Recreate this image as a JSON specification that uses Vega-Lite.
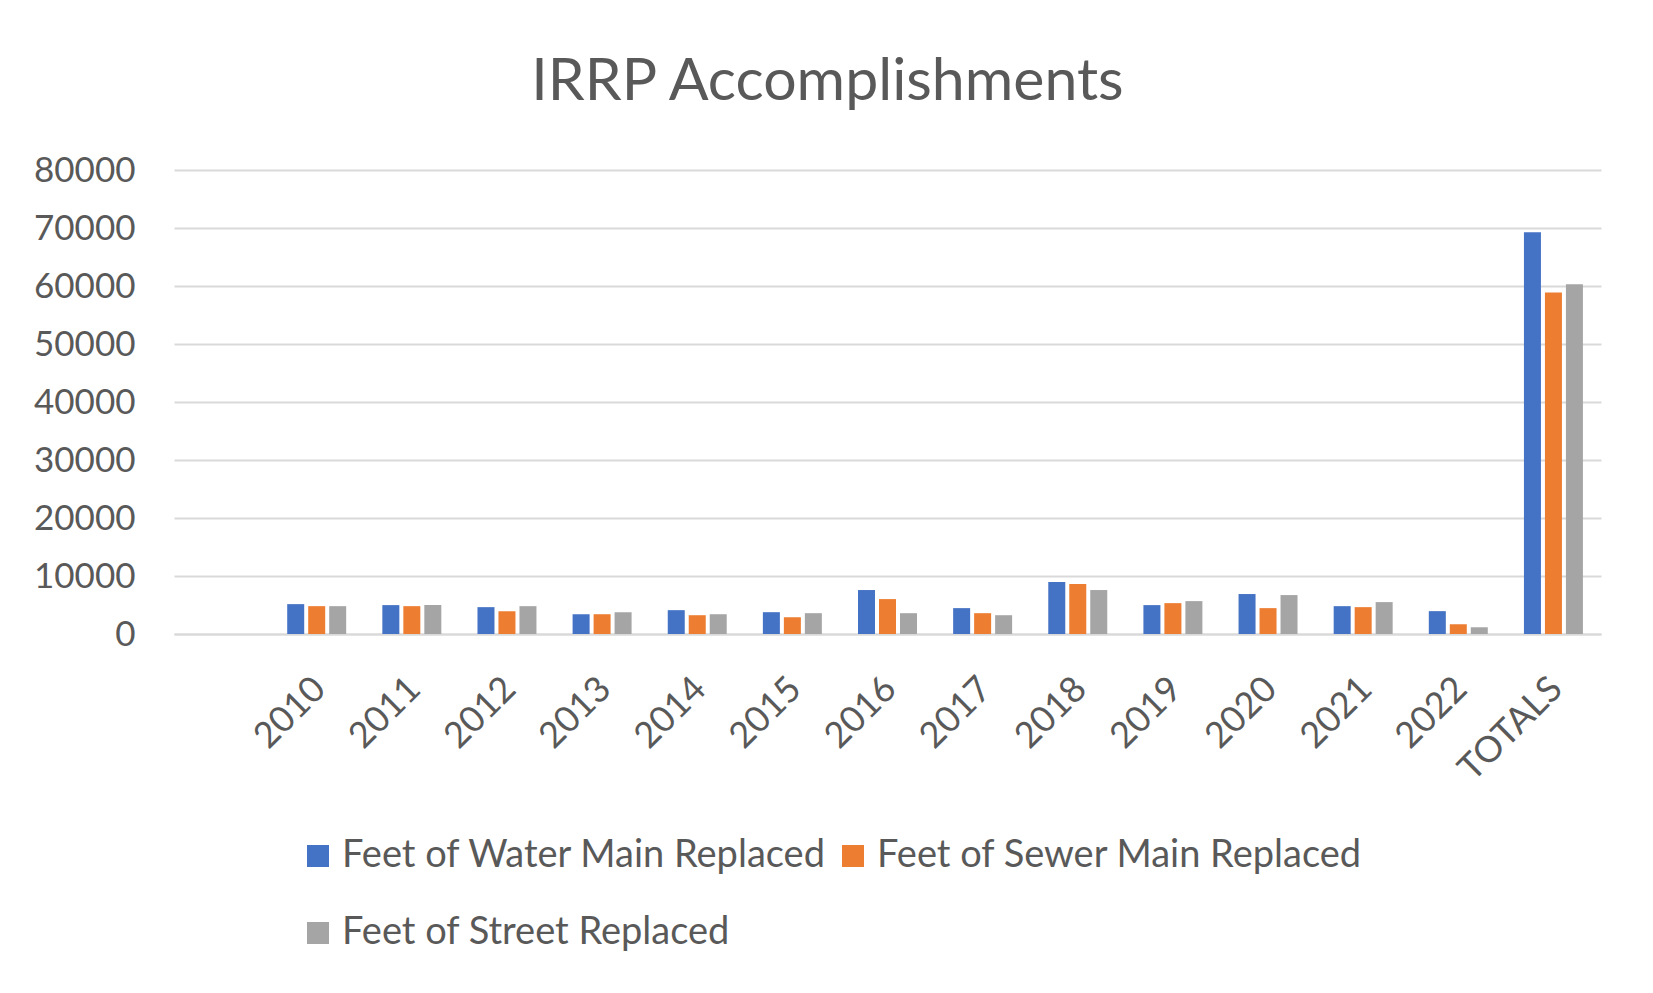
{
  "$schema": "https://vega.github.io/schema/vega-lite/v6.json",
  "autosize": {"type": "none"},
  "width": 1427,
  "height": 464,
  "padding": {"left": 174, "top": 170, "right": 52, "bottom": 359},
  "background": "#ffffff",
  "title": {
    "text": "IRRP Accomplishments",
    "anchor": "middle",
    "frame": "group",
    "dx": -60,
    "offset": -6,
    "baseline": "alphabetic",
    "font": "Lato",
    "fontSize": 59,
    "fontWeight": "normal",
    "color": "#595959"
  },
  "data": {
    "values": [
      {"year": "2010", "series": "Feet of Water Main Replaced", "feet": 5150},
      {"year": "2010", "series": "Feet of Sewer Main Replaced", "feet": 4800},
      {"year": "2010", "series": "Feet of Street Replaced", "feet": 4800},
      {"year": "2011", "series": "Feet of Water Main Replaced", "feet": 4980},
      {"year": "2011", "series": "Feet of Sewer Main Replaced", "feet": 4800},
      {"year": "2011", "series": "Feet of Street Replaced", "feet": 4980},
      {"year": "2012", "series": "Feet of Water Main Replaced", "feet": 4630},
      {"year": "2012", "series": "Feet of Sewer Main Replaced", "feet": 3940},
      {"year": "2012", "series": "Feet of Street Replaced", "feet": 4800},
      {"year": "2013", "series": "Feet of Water Main Replaced", "feet": 3410},
      {"year": "2013", "series": "Feet of Sewer Main Replaced", "feet": 3410},
      {"year": "2013", "series": "Feet of Street Replaced", "feet": 3760},
      {"year": "2014", "series": "Feet of Water Main Replaced", "feet": 4110},
      {"year": "2014", "series": "Feet of Sewer Main Replaced", "feet": 3240},
      {"year": "2014", "series": "Feet of Street Replaced", "feet": 3410},
      {"year": "2015", "series": "Feet of Water Main Replaced", "feet": 3760},
      {"year": "2015", "series": "Feet of Sewer Main Replaced", "feet": 2890},
      {"year": "2015", "series": "Feet of Street Replaced", "feet": 3590},
      {"year": "2016", "series": "Feet of Water Main Replaced", "feet": 7580},
      {"year": "2016", "series": "Feet of Sewer Main Replaced", "feet": 6020},
      {"year": "2016", "series": "Feet of Street Replaced", "feet": 3590},
      {"year": "2017", "series": "Feet of Water Main Replaced", "feet": 4460},
      {"year": "2017", "series": "Feet of Sewer Main Replaced", "feet": 3590},
      {"year": "2017", "series": "Feet of Street Replaced", "feet": 3240},
      {"year": "2018", "series": "Feet of Water Main Replaced", "feet": 8970},
      {"year": "2018", "series": "Feet of Sewer Main Replaced", "feet": 8620},
      {"year": "2018", "series": "Feet of Street Replaced", "feet": 7580},
      {"year": "2019", "series": "Feet of Water Main Replaced", "feet": 4980},
      {"year": "2019", "series": "Feet of Sewer Main Replaced", "feet": 5320},
      {"year": "2019", "series": "Feet of Street Replaced", "feet": 5670},
      {"year": "2020", "series": "Feet of Water Main Replaced", "feet": 6890},
      {"year": "2020", "series": "Feet of Sewer Main Replaced", "feet": 4460},
      {"year": "2020", "series": "Feet of Street Replaced", "feet": 6710},
      {"year": "2021", "series": "Feet of Water Main Replaced", "feet": 4800},
      {"year": "2021", "series": "Feet of Sewer Main Replaced", "feet": 4630},
      {"year": "2021", "series": "Feet of Street Replaced", "feet": 5500},
      {"year": "2022", "series": "Feet of Water Main Replaced", "feet": 3940},
      {"year": "2022", "series": "Feet of Sewer Main Replaced", "feet": 1680},
      {"year": "2022", "series": "Feet of Street Replaced", "feet": 1160},
      {"year": "TOTALS", "series": "Feet of Water Main Replaced", "feet": 69270},
      {"year": "TOTALS", "series": "Feet of Sewer Main Replaced", "feet": 58900},
      {"year": "TOTALS", "series": "Feet of Street Replaced", "feet": 60290}
    ]
  },
  "mark": {"type": "bar"},
  "encoding": {
    "x": {
      "field": "year",
      "type": "nominal",
      "title": null,
      "sort": null,
      "scale": {
        "domain": [" ", "2010", "2011", "2012", "2013", "2014", "2015", "2016", "2017", "2018", "2019", "2020", "2021", "2022", "TOTALS"],
        "paddingInner": 0.38,
        "paddingOuter": 0.19
      },
      "axis": {
        "labelAngle": -45,
        "labelFont": "Lato",
        "labelFontSize": 36,
        "labelColor": "#595959",
        "labelPadding": 37,
        "labelOffset": -9,
        "ticks": false,
        "domainColor": "#d9d9d9",
        "domainWidth": 2,
        "grid": false
      }
    },
    "xOffset": {
      "field": "series",
      "type": "nominal",
      "sort": ["Feet of Water Main Replaced", "Feet of Sewer Main Replaced", "Feet of Street Replaced"],
      "scale": {"paddingInner": 0.19}
    },
    "y": {
      "field": "feet",
      "type": "quantitative",
      "title": null,
      "scale": {"domain": [0, 80000], "nice": false},
      "axis": {
        "values": [0, 10000, 20000, 30000, 40000, 50000, 60000, 70000, 80000],
        "format": "d",
        "labelFont": "Lato",
        "labelFontSize": 35,
        "labelColor": "#595959",
        "labelPadding": 39,
        "ticks": false,
        "domain": false,
        "grid": true,
        "gridColor": "#d9d9d9",
        "gridWidth": 2
      }
    },
    "color": {
      "field": "series",
      "type": "nominal",
      "title": null,
      "sort": ["Feet of Water Main Replaced", "Feet of Sewer Main Replaced", "Feet of Street Replaced"],
      "scale": {
        "domain": ["Feet of Water Main Replaced", "Feet of Sewer Main Replaced", "Feet of Street Replaced"],
        "range": ["#4472C4", "#ED7D31", "#A5A5A5"]
      },
      "legend": {
        "orient": "none",
        "legendX": 125,
        "legendY": 667,
        "direction": "horizontal",
        "columns": 2,
        "columnPadding": 7,
        "rowPadding": 39,
        "symbolType": "square",
        "symbolSize": 484,
        "symbolStrokeWidth": 0,
        "symbolOpacity": 1,
        "labelOffset": 5,
        "labelFont": "Lato",
        "labelFontSize": 38,
        "labelColor": "#595959",
        "labelLimit": 800
      }
    }
  },
  "config": {
    "view": {"stroke": null}
  }
}
